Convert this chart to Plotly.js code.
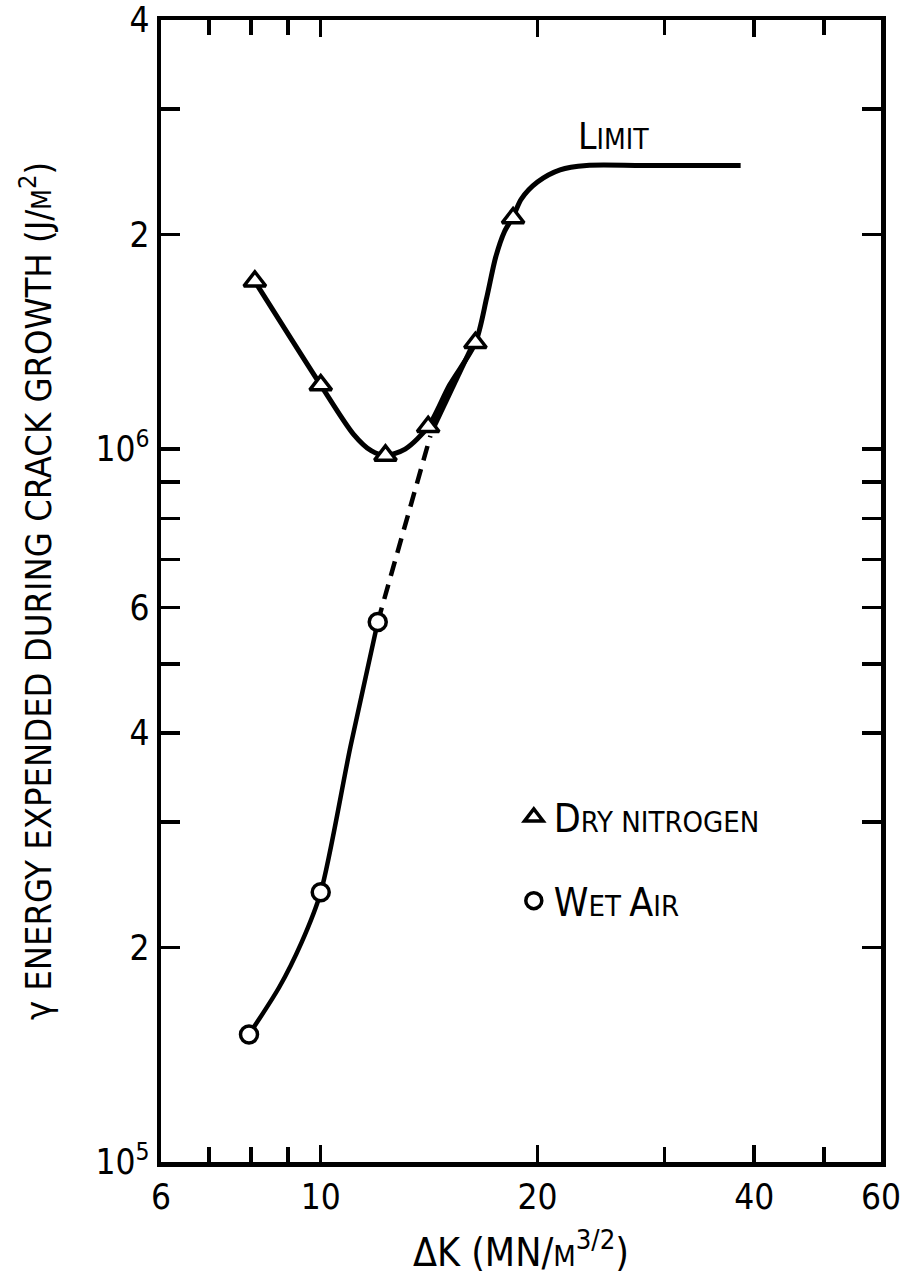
<!DOCTYPE html>
<html>
<head>
<meta charset="utf-8">
<script src="https://cdn.plot.ly/plotly-3.0.1.min.js"></script>
<style>html,body{margin:0;padding:0;background:#fff;}#chart{width:904px;height:1287px;}</style>
</head>
<body>
<div id="chart"></div>
<script>
// ---- data ----
// Dry nitrogen measured points (triangles)
var dryX = [8.1, 10.0, 12.3, 14.1, 16.4, 18.5];
var dryY = [1.72e6, 1.23e6, 9.8e5, 1.075e6, 1.41e6, 2.11e6];
// Wet air measured points (circles)
var wetX = [7.95, 10.0, 12.0];
var wetY = [1.51e5, 2.39e5, 5.72e5];

// hand-drawn curves
var dryCurveX = [8.1, 10.0, 11.1, 11.75, 12.3, 13.1, 14.1, 15.1, 16.4, 17.0, 17.5, 18.0, 18.5, 19.0, 20.0, 21.5, 23.4, 28.0, 38.3];
var dryCurveY = [1.72e6, 1.23e6, 1.05e6, 9.95e5, 9.8e5, 1.0e6, 1.075e6, 1.23e6, 1.41e6, 1.63e6, 1.86e6, 2.02e6, 2.12e6, 2.245e6, 2.37e6, 2.465e6, 2.5e6, 2.5e6, 2.5e6];
var wetCurveX = [7.95, 8.76, 9.4, 10.0, 11.0, 12.0];
var wetCurveY = [1.51e5, 1.76e5, 2.03e5, 2.39e5, 3.83e5, 5.72e5];
var wetDashX = [12.0, 14.2];
var wetDashY = [5.72e5, 1.044e6];
var wetMergeX = [14.3, 16.2];
var wetMergeY = [1.065e6, 1.39e6];

// axis ticks
var xTickVals = [6, 10, 20, 40, 60];
var xTickText = ['6', '10', '20', '40', '60'];
var xMinorVals = [7, 8, 9, 30, 50];
var xDecadeVals = [10];
var yTickVals = [1e5, 2e5, 4e5, 6e5, 1e6, 2e6, 4e6];
var yTickText = ['10<sup>5</sup>', '2', '4', '6', '10<sup>6</sup>', '2', '4'];
var yMinorVals = [3e5, 5e5, 7e5, 8e5, 9e5, 3e6];
var yDecadeVals = [1e6];

var FONT = '"DejaVu Sans Condensed", "Liberation Sans Narrow", "DejaVu Sans", sans-serif';
var INK = '#000000';
var EPS = 1e-6;

var traces = [
  {x: dryCurveX, y: dryCurveY, mode: 'lines', line: {color: INK, width: 5, shape: 'spline', smoothing: 0.8}, showlegend: false, hoverinfo: 'skip'},
  {x: wetCurveX, y: wetCurveY, mode: 'lines', line: {color: INK, width: 4.5, shape: 'spline', smoothing: 0.8}, showlegend: false, hoverinfo: 'skip'},
  {x: wetDashX, y: wetDashY, mode: 'lines', line: {color: INK, width: 4.5, dash: '15px,9px'}, showlegend: false, hoverinfo: 'skip'},
  {x: wetMergeX, y: wetMergeY, mode: 'lines', line: {color: INK, width: 5}, showlegend: false, hoverinfo: 'skip'},
  {x: dryX, y: dryY, mode: 'markers', name: 'D<span style="font-size:29px">RY NITROGEN</span>', legendgroup: 'dry',
   marker: {symbol: 'triangle-up', size: 19, color: '#ffffff', line: {color: INK, width: 3.5}}},
  {x: wetX, y: wetY, mode: 'markers', name: 'W<span style="font-size:29px">ET </span>A<span style="font-size:29px">IR</span>', legendgroup: 'wet',
   marker: {symbol: 'circle', size: 17, color: '#ffffff', line: {color: INK, width: 3.5}}}
];

var axisCommon = {
  type: 'log', showgrid: false, zeroline: false,
  ticks: 'inside', tickcolor: INK, tickwidth: 3.5,
  showline: true, linecolor: INK, linewidth: 4.5, mirror: 'ticks',
  tickfont: {family: FONT, size: 35, color: INK}
};

var layout = {
  width: 904, height: 1287,
  margin: {l: 161, r: 23, t: 20, b: 125, pad: 0},
  paper_bgcolor: '#ffffff', plot_bgcolor: '#ffffff',
  font: {family: FONT, color: INK},
  showlegend: true,
  legend: {x: 0.49, y: 0.33, xanchor: 'left', yanchor: 'top', bgcolor: 'rgba(0,0,0,0)',
           font: {family: FONT, size: 39, color: INK}, tracegroupgap: 30, itemsizing: 'trace'},
  xaxis: Object.assign({}, axisCommon, {
    range: [Math.log10(6) - EPS, Math.log10(60) + EPS],
    tickmode: 'array', tickvals: xTickVals, ticktext: xTickText, ticklen: 17,
    minor: {tickmode: 'array', tickvals: xMinorVals, ticks: 'inside', ticklen: 15, tickwidth: 3.5, tickcolor: INK, showgrid: false},
    title: {text: '\u0394K (MN/<span style="font-size:29px">M</span><sup>3/2</sup>)', font: {family: FONT, size: 39, color: INK}, standoff: 24}
  }),
  xaxis2: {
    type: 'log', overlaying: 'x', anchor: 'y', side: 'bottom',
    range: [Math.log10(6) - EPS, Math.log10(60) + EPS],
    tickmode: 'array', tickvals: xDecadeVals, showticklabels: false,
    ticks: 'inside', ticklen: 30, tickwidth: 3.5, tickcolor: INK,
    showline: true, linecolor: INK, linewidth: 4.5, mirror: 'ticks', showgrid: false, zeroline: false
  },
  yaxis: Object.assign({}, axisCommon, {
    range: [5 - EPS, Math.log10(4e6) + EPS],
    tickmode: 'array', tickvals: yTickVals, ticktext: yTickText, ticklen: 19,
    minor: {tickmode: 'array', tickvals: yMinorVals, ticks: 'inside', ticklen: 19, tickwidth: 3.5, tickcolor: INK, showgrid: false},
    title: {text: '\u03B3 ENERGY EXPENDED DURING CRACK GROWTH (J/<span style="font-size:27px">M</span><sup>2</sup>)', font: {family: FONT, size: 36, color: INK}, standoff: 34}
  }),
  yaxis2: {
    type: 'log', overlaying: 'y', anchor: 'x', side: 'left',
    range: [5 - EPS, Math.log10(4e6) + EPS],
    tickmode: 'array', tickvals: yDecadeVals, showticklabels: false,
    ticks: 'inside', ticklen: 33, tickwidth: 3.5, tickcolor: INK,
    showline: true, linecolor: INK, linewidth: 4.5, mirror: 'ticks', showgrid: false, zeroline: false
  },
  annotations: [
    {xref: 'x', yref: 'y', x: Math.log10(25.5), y: Math.log10(2.75e6), text: 'L<span style="font-size:28px">IMIT</span>',
     showarrow: false, font: {family: FONT, size: 37, color: INK}, xanchor: 'center', yanchor: 'middle'}
  ]
};

Plotly.newPlot('chart', traces, layout, {staticPlot: true, displayModeBar: false});
</script>
</body>
</html>
